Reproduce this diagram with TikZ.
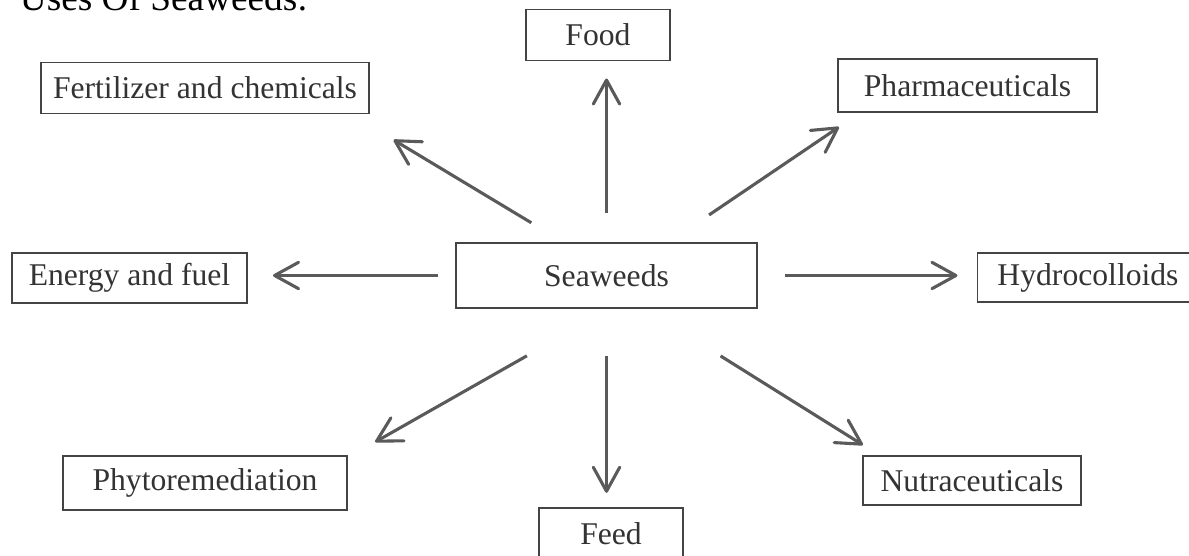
\documentclass[tikz,border=0pt]{standalone}
\usepackage{fontspec}
\setmainfont{Liberation Serif}
\usetikzlibrary{arrows.meta}
\definecolor{boxgray}{HTML}{444444}
\definecolor{arrgray}{HTML}{5A5A5A}
\definecolor{textgray}{HTML}{333333}
\begin{document}
\begin{tikzpicture}[x=0.025cm, y=-0.025cm, font=\fontsize{22.5}{27}\selectfont]
  \tikzset{box/.style={draw=boxgray, line width=1.3pt, inner sep=0pt, outer sep=0pt, text=textgray, align=center},
    arr/.style={draw=arrgray, line width=2.2pt, -{Straight Barb[length=6mm,width=6.6mm,round]}}}
  \fill[white] (0,0) rectangle (1189,556);
  \useasboundingbox (0,0) rectangle (1189,556);
  \clip (0,0) rectangle (1189,556);
  \node[anchor=base west, font=\fontsize{26.5}{30}\selectfont] (title) at (15,11) {Uses Of Seaweeds:};
  \node[box, minimum width=7.525cm, minimum height=1.625cm] (sea) at (606.5,275.5) {Seaweeds};
  \node[box, minimum width=3.6cm, minimum height=1.275cm] (food) at (598,35) {Food};
  \node[box, minimum width=8.2cm, minimum height=1.275cm] (fert) at (205,88) {Fertilizer and chemicals};
  \node[box, minimum width=6.475cm, minimum height=1.325cm] (pharma) at (967.5,85.5) {Pharmaceuticals};
  \node[box, minimum width=5.875cm, minimum height=1.25cm] (energy) at (129.5,278) {Energy and fuel};
  \node[box, minimum width=5.525cm, minimum height=1.225cm] (hydro) at (1088,277.5) {Hydrocolloids};
  \node[box, minimum width=7.1cm, minimum height=1.35cm] (phyto) at (205,483) {Phytoremediation};
  \node[box, minimum width=5.45cm, minimum height=1.225cm] (nutra) at (972,480.5) {Nutraceuticals};
  \node[box, minimum width=3.6cm, minimum height=1.275cm] (feed) at (611,533.5) {Feed};
  % arrows out of the centre box
  \draw[arr, shorten <=0.75cm, shorten >=0.45cm] (sea.north) -- (sea.north |- food.south);
  \draw[arr, shorten <=0.98cm, shorten >=1.28cm] (sea.142) -- (fert.-10);
  \draw[arr, shorten <=1.25cm, shorten >=0.67cm] (sea.28) -- (pharma.-166);
  \draw[arr, shorten <=0.45cm, shorten >=0.65cm] (sea.west) -- (sea.west -| energy.east);
  \draw[arr, shorten <=0.7cm, shorten >=0.5cm] (sea.east) -- (sea.east -| hydro.west);
  \draw[arr, shorten <=2.42cm, shorten >=0.81cm] (sea.-82) -- (phyto.10);
  \draw[arr, shorten <=1.2cm, shorten >=0.38cm] (sea.south) -- (sea.south |- feed.north);
  \draw[arr, shorten <=2.26cm, shorten >=0.52cm] (sea.-41) -- (nutra.165);
\end{tikzpicture}
\end{document}
